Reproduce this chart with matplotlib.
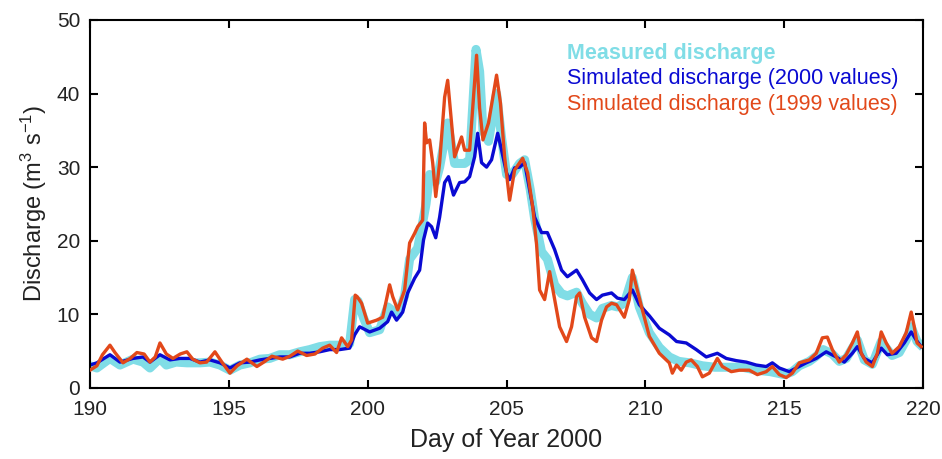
import matplotlib
matplotlib.use('Agg')
import matplotlib.pyplot as plt

plt.rcParams['font.family'] = ['Liberation Sans', 'DejaVu Sans']
plt.rcParams['mathtext.fontset'] = 'custom'
plt.rcParams['mathtext.rm'] = 'Liberation Sans'
plt.rcParams['mathtext.it'] = 'Liberation Sans:italic'

# measured discharge (m3/s) by day of year
days_meas = [190.00, 190.25, 190.72, 191.08, 191.55, 191.91, 192.16, 192.52, 192.75, 193.10,
             193.50, 193.96, 194.32, 194.68, 195.04, 195.40, 195.76, 196.12, 196.47, 196.83,
             197.19, 197.55, 197.91, 198.27, 198.63, 198.99, 199.35, 199.53, 199.65, 199.85,
             200.07, 200.43, 200.72, 200.90, 201.10, 201.33, 201.51, 201.80, 201.98, 202.10,
             202.23, 202.45, 202.59, 202.88, 203.13, 203.49, 203.67, 203.90, 204.03, 204.15,
             204.35, 204.64, 204.82, 205.00, 205.20, 205.47, 205.65, 205.85, 206.01, 206.26,
             206.47, 206.73, 206.98, 207.19, 207.52, 207.73, 207.99, 208.24, 208.45, 208.78,
             208.99, 209.24, 209.53, 209.78, 210.14, 210.50, 210.86, 211.20, 211.60, 212.05,
             212.50, 213.00, 213.50, 214.00, 214.50, 215.00, 215.29, 215.54, 215.90, 216.15,
             216.40, 216.73, 216.98, 217.23, 217.45, 217.63, 217.88, 218.17, 218.49, 218.88,
             219.14, 219.39, 219.57, 219.78, 220.00]
q_meas = [3.0, 2.7, 4.0, 3.1, 3.9, 3.5, 2.7, 4.0, 3.1, 3.5,
          3.4, 3.4, 3.5, 3.1, 2.4, 3.1, 3.4, 3.9, 4.0, 4.5,
          4.5, 4.9, 5.2, 5.6, 5.8, 5.8, 6.0, 12.0, 11.8, 9.5,
          7.5, 7.9, 11.0, 10.5, 10.0, 12.5, 17.5, 19.0, 22.5, 25.0,
          29.0, 28.0, 30.0, 36.0, 30.5, 30.5, 31.0, 46.0, 43.0, 35.0,
          33.5, 40.0, 34.0, 29.0, 29.0, 30.5, 31.0, 27.0, 23.0, 18.5,
          17.5, 14.0, 12.8, 12.5, 13.0, 11.5, 10.0, 9.5, 10.8, 11.2,
          11.0, 11.5, 15.0, 11.0, 7.5, 5.5, 4.2, 3.6, 3.4, 3.0,
          2.8, 2.8, 2.8, 2.4, 2.2, 1.8, 2.2, 3.0, 3.6, 4.3,
          5.2, 4.6, 3.6, 4.0, 5.4, 6.5, 3.8, 3.2, 6.3, 4.4,
          4.8, 6.5, 8.3, 6.3, 5.5]

# simulated with 2000 parameter values
days_2000 = [190.00, 190.25, 190.72, 191.08, 191.55, 191.91, 192.16, 192.52, 192.88, 193.24,
             193.60, 193.96, 194.32, 194.68, 195.04, 195.40, 195.76, 196.12, 196.47, 196.83,
             197.19, 197.55, 197.91, 198.27, 198.63, 198.99, 199.35, 199.53, 199.71, 200.07,
             200.43, 200.72, 200.86, 201.04, 201.26, 201.44, 201.69, 201.87, 202.01, 202.16,
             202.30, 202.45, 202.59, 202.77, 202.91, 203.09, 203.31, 203.49, 203.67, 203.85,
             203.96, 204.10, 204.28, 204.46, 204.68, 204.82, 205.00, 205.11, 205.29, 205.47,
             205.65, 205.83, 206.01, 206.26, 206.47, 206.73, 206.98, 207.19, 207.52, 207.73,
             207.99, 208.24, 208.45, 208.78, 208.99, 209.24, 209.53, 209.78, 210.14, 210.50,
             210.86, 211.12, 211.47, 211.83, 212.19, 212.59, 212.91, 213.27, 213.63, 213.99,
             214.35, 214.57, 214.82, 215.18, 215.43, 215.79, 216.15, 216.51, 216.87, 217.16,
             217.45, 217.63, 217.88, 218.17, 218.49, 218.71, 219.03, 219.32, 219.57, 219.75,
             219.93]
q_2000 = [3.1, 3.4, 4.5, 3.5, 4.0, 4.2, 3.5, 4.5, 3.8, 4.0,
          4.0, 3.5, 3.8, 3.4, 2.7, 3.4, 3.5, 3.8, 4.0, 4.2,
          4.2, 4.7, 4.7, 4.9, 5.2, 5.2, 5.4, 7.2, 8.3, 7.6,
          8.1, 9.0, 10.3, 9.2, 10.3, 12.9, 14.9, 16.0, 20.1, 22.4,
          21.9, 20.4, 23.2, 27.9, 28.7, 26.2, 27.9, 28.0, 28.7, 31.4,
          34.6, 30.6, 30.0, 31.0, 34.6, 32.3, 29.2, 28.3, 29.9, 30.0,
          30.6, 26.9, 23.2, 21.1, 21.1, 18.8, 16.0, 15.1, 16.0, 14.7,
          12.9, 12.0, 12.6, 12.9, 12.2, 12.0, 13.3, 11.3, 9.8, 8.1,
          7.2, 6.3, 6.1, 5.2, 4.2, 4.7, 4.0, 3.7, 3.5, 3.1,
          2.9, 3.4, 2.7, 2.2, 2.7, 3.4, 4.0, 4.9, 4.2, 3.5,
          4.7, 5.6, 4.0, 3.4, 5.4, 4.5, 4.7, 6.1, 7.6, 6.5,
          5.6]

# simulated with 1999 parameter values
days_1999 = [190.00, 190.25, 190.45, 190.72, 190.90, 191.19, 191.45, 191.69, 191.95, 192.16,
             192.35, 192.52, 192.75, 192.99, 193.25, 193.49, 193.70, 193.96, 194.20, 194.50,
             194.75, 195.04, 195.30, 195.65, 196.01, 196.30, 196.55, 196.94, 197.20, 197.48,
             197.80, 198.10, 198.38, 198.63, 198.88, 199.06, 199.28, 199.42, 199.55, 199.62,
             199.78, 200.00, 200.32, 200.54, 200.79, 200.90, 201.08, 201.33, 201.51, 201.69,
             201.80, 201.98, 202.05, 202.12, 202.23, 202.34, 202.45, 202.59, 202.77, 202.88,
             203.13, 203.38, 203.49, 203.67, 203.92, 204.03, 204.15, 204.35, 204.64, 204.78,
             204.93, 205.11, 205.29, 205.47, 205.58, 205.76, 205.94, 206.08, 206.19, 206.37,
             206.55, 206.65, 206.91, 207.16, 207.34, 207.52, 207.63, 207.81, 208.06, 208.24,
             208.42, 208.60, 208.78, 208.96, 209.14, 209.24, 209.42, 209.53, 209.68, 209.89,
             210.14, 210.50, 210.86, 210.97, 211.12, 211.29, 211.47, 211.65, 211.87, 212.05,
             212.30, 212.59, 212.77, 213.09, 213.38, 213.74, 214.03, 214.35, 214.57, 214.82,
             215.07, 215.29, 215.54, 215.90, 216.15, 216.37, 216.55, 216.73, 216.98, 217.23,
             217.45, 217.63, 217.77, 217.95, 218.17, 218.35, 218.49, 218.67, 218.88, 219.14,
             219.39, 219.57, 219.68, 219.78, 219.93]
q_1999 = [2.4, 3.0, 4.5, 5.8, 4.8, 3.4, 4.0, 4.8, 4.6, 3.5,
          4.2, 6.1, 4.6, 4.0, 4.6, 4.9, 3.9, 3.4, 3.5, 4.9,
          3.5, 2.0, 3.0, 3.9, 2.9, 3.6, 4.3, 3.9, 4.3, 5.0,
          4.4, 4.6, 5.4, 5.8, 4.8, 6.8, 5.6, 6.5, 12.6, 12.4,
          11.5, 8.8, 9.2, 9.6, 14.0, 12.4, 10.6, 13.3, 19.7, 21.0,
          21.9, 22.8, 36.0, 33.3, 33.7, 30.6, 26.0, 30.6, 39.5, 41.8,
          31.4, 34.1, 32.3, 32.3, 45.2, 38.0, 33.7, 36.0, 42.5, 38.7,
          31.4, 25.5, 29.6, 30.6, 31.2, 29.2, 24.6, 19.5, 13.3, 12.0,
          15.8, 13.7, 8.3, 6.3, 8.3, 12.4, 12.9, 9.6, 6.8, 6.3,
          9.2, 11.0, 11.5, 11.3, 10.2, 9.6, 12.0, 16.0, 13.7, 10.6,
          7.0, 4.7, 3.4, 2.0, 3.1, 2.4, 3.5, 3.8, 2.9, 1.5,
          2.0, 4.0, 2.9, 2.2, 2.4, 2.4, 1.8, 2.2, 2.9, 1.8,
          1.4, 2.0, 3.4, 3.8, 4.7, 6.8, 6.9, 5.2, 3.5, 4.5,
          6.1, 7.6, 4.7, 3.5, 2.9, 4.7, 7.6, 6.1, 4.7, 5.6,
          7.5, 10.3, 8.3, 6.1, 5.6]

CYAN = '#80dde6'
BLUE = '#0a0ad2'
RED = '#e2481a'

fig = plt.figure(figsize=(9.42, 4.59), dpi=100)
ax = fig.add_axes((0.0955, 0.155, 0.8845, 0.8015))

ax.plot(days_meas, q_meas, color=CYAN, linewidth=6.5, solid_joinstyle='round',
        solid_capstyle='butt', zorder=1)
ax.plot(days_2000, q_2000, color=BLUE, linewidth=2.4, solid_joinstyle='round', zorder=2)
ax.plot(days_1999, q_1999, color=RED, linewidth=2.4, solid_joinstyle='round', zorder=3)

ax.set_xlim(190, 220)
ax.set_ylim(0, 50)
ax.set_xticks(range(190, 221, 5))
ax.set_yticks(range(0, 51, 10))
ax.tick_params(direction='in', length=6, width=1.5, top=True, right=True,
               labelsize=15, labelcolor='#222222')
ax.tick_params(axis='x', pad=9)
ax.tick_params(axis='y', pad=7)
for spine in ax.spines.values():
    spine.set_linewidth(1.5)

ax.set_xlabel('Day of Year 2000', fontsize=18, color='#222222', labelpad=6)
ax.set_ylabel(r'Discharge (m$^{3}$ s$^{-1}$)', fontsize=17, color='#222222', labelpad=6)

ax.text(0.573, 0.91, 'Measured discharge', transform=ax.transAxes, color=CYAN,
        fontsize=15.5, fontweight='bold', va='center')
ax.text(0.573, 0.84, 'Simulated discharge (2000 values)', transform=ax.transAxes,
        color=BLUE, fontsize=15.5, va='center')
ax.text(0.573, 0.77, 'Simulated discharge (1999 values)', transform=ax.transAxes,
        color=RED, fontsize=15.5, va='center')

fig.savefig('out.png', dpi=100)
